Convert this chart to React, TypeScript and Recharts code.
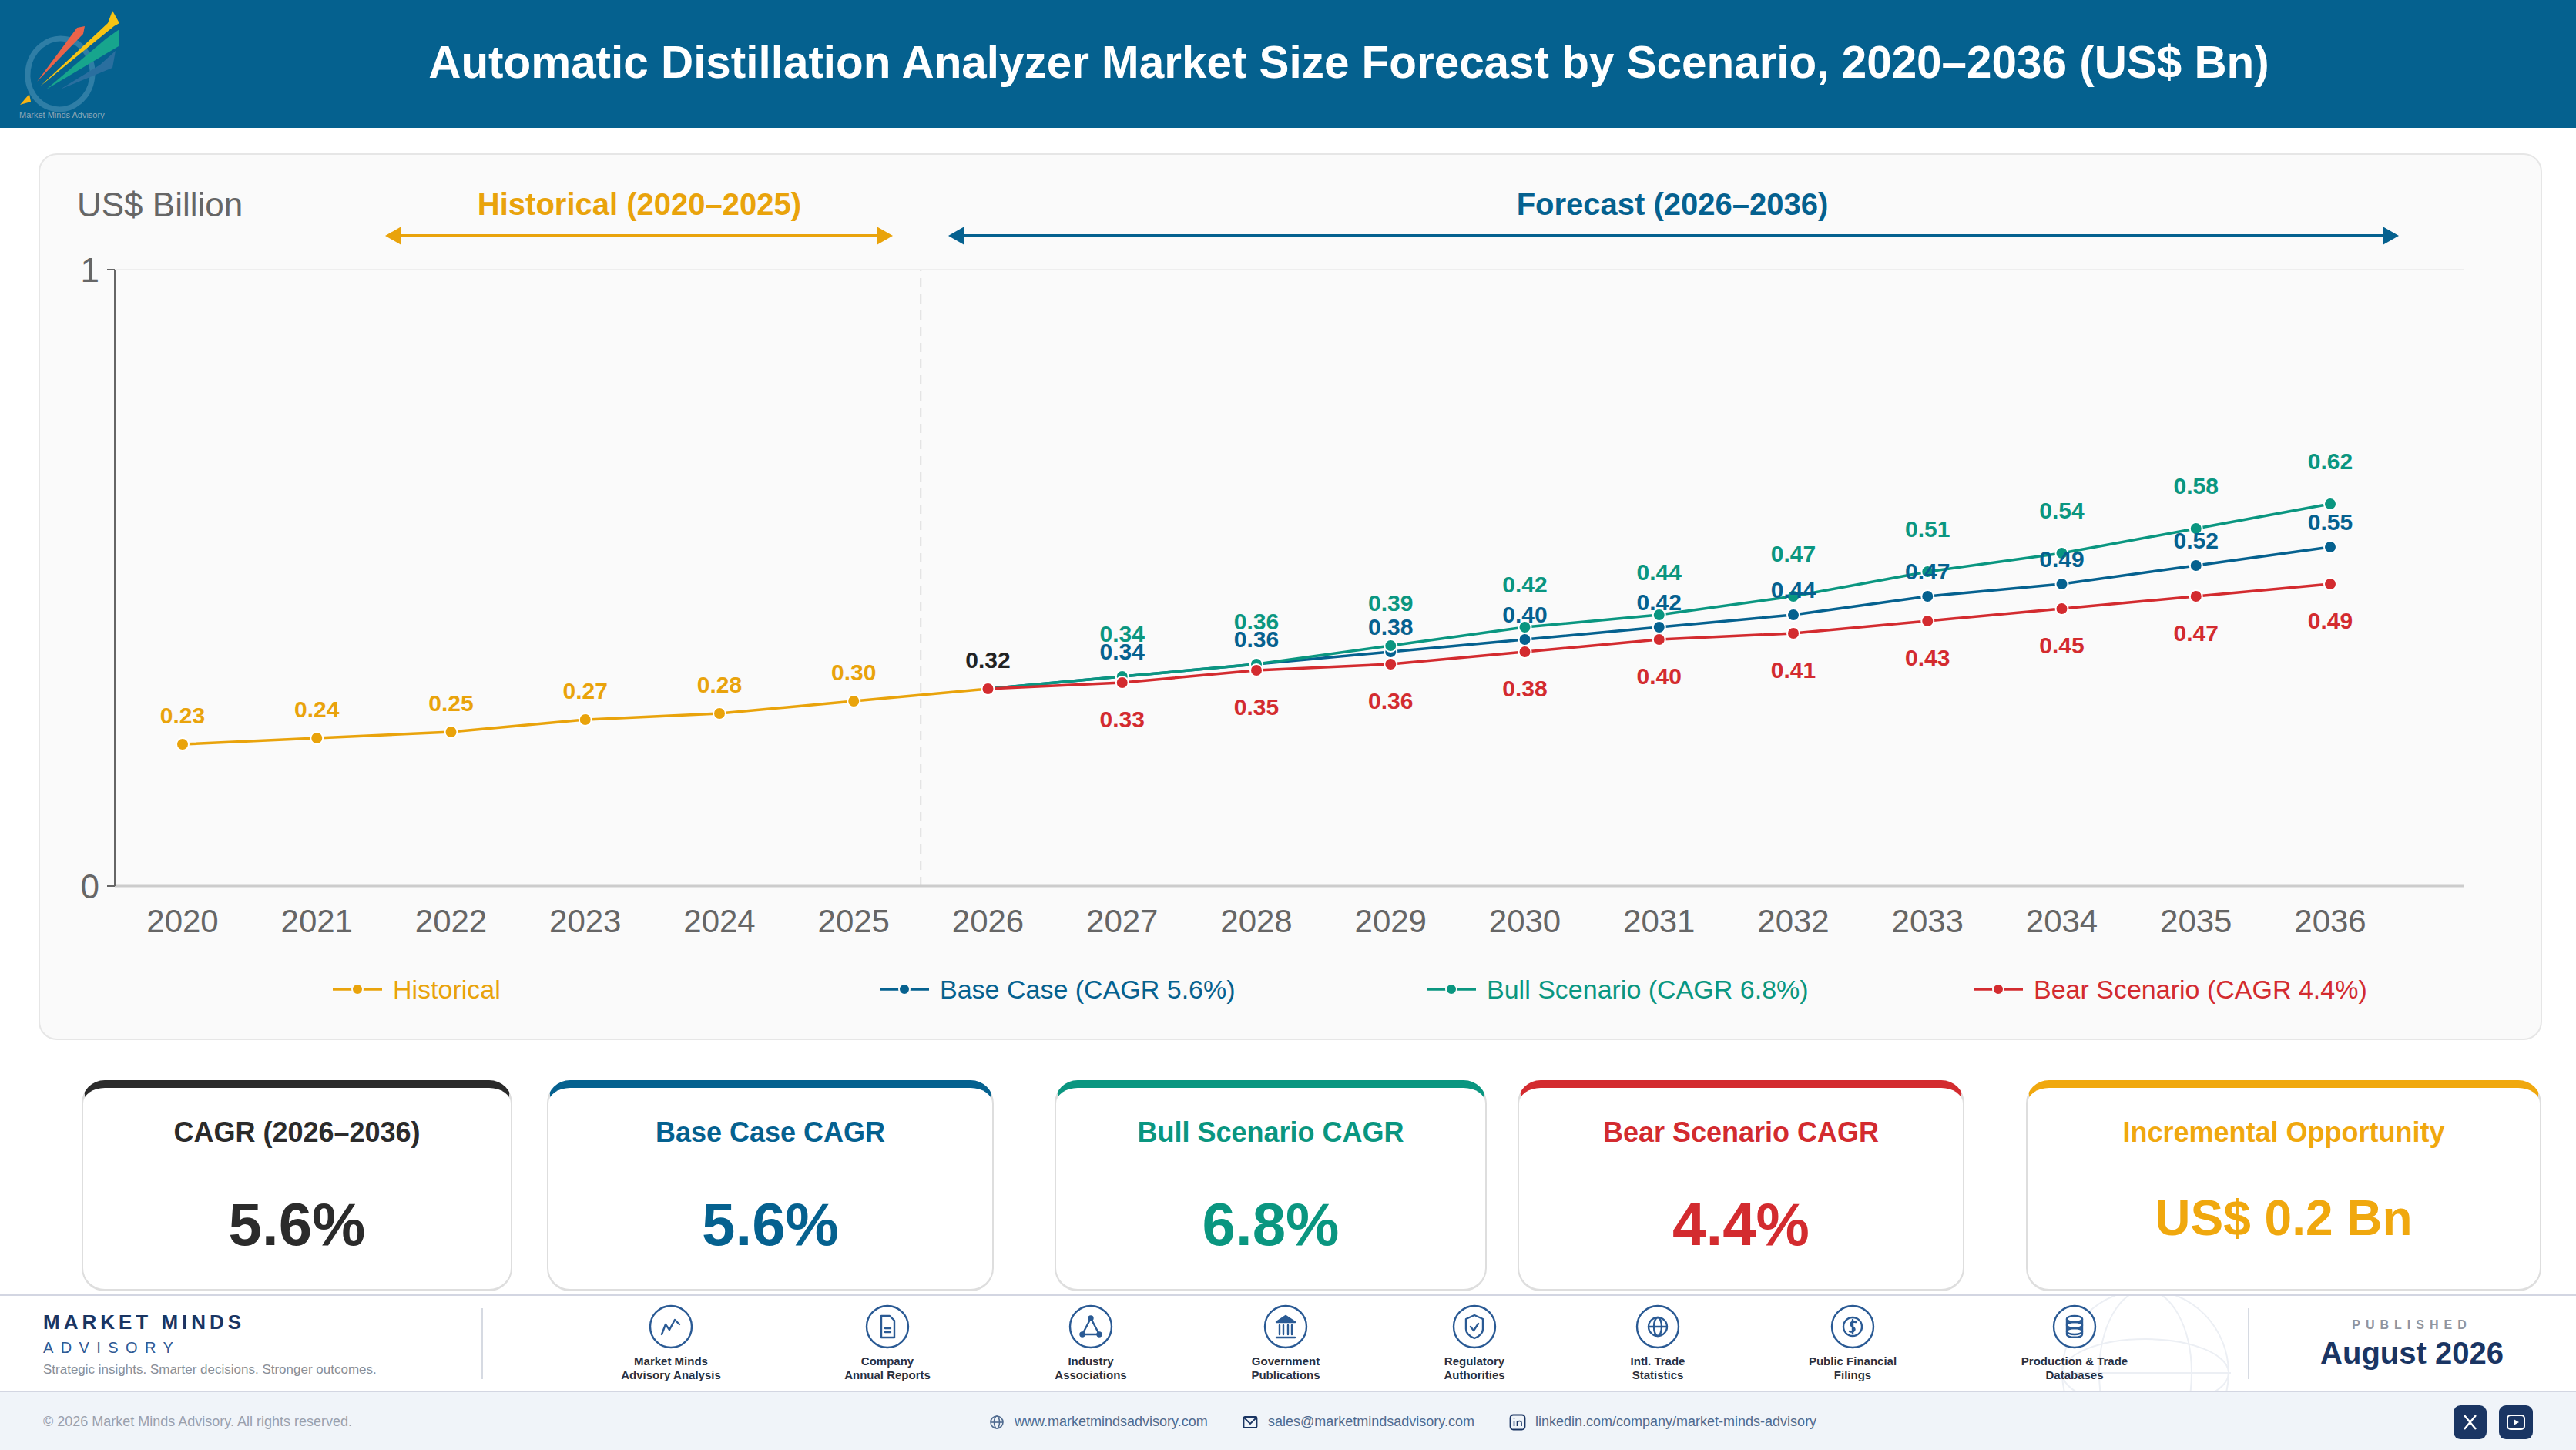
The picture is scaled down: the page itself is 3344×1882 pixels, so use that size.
import React from 'react';
import { LineChart, Line, XAxis, YAxis, CartesianGrid, Legend, ReferenceLine } from 'recharts';

const years = ['2020', '2021', '2022', '2023', '2024', '2025', '2026', '2027', '2028', '2029', '2030', '2031', '2032', '2033', '2034', '2035', '2036'];
const historical = [0.23, 0.24, 0.25, 0.27, 0.28, 0.30, 0.32, null, null, null, null, null, null, null, null, null, null];
const baseCase = [null, null, null, null, null, null, 0.32, 0.34, 0.36, 0.38, 0.40, 0.42, 0.44, 0.47, 0.49, 0.52, 0.55];
const bull = [null, null, null, null, null, null, 0.32, 0.34, 0.36, 0.39, 0.42, 0.44, 0.47, 0.51, 0.54, 0.58, 0.62];
const bear = [null, null, null, null, null, null, 0.32, 0.33, 0.35, 0.36, 0.38, 0.40, 0.41, 0.43, 0.45, 0.47, 0.49];
const yTicks = [0, 1];

const data = years.map((year, i) => ({ year, historical: historical[i], baseCase: baseCase[i], bull: bull[i], bear: bear[i] }));

const BLUE = '#05618f';
const TEAL = '#0a9680';
const RED = '#d32b2f';
const AMBER = '#e9a30b';
const INK = '#2b2b2b';
const NAVY = '#1a3563';
const ICON = '#2a5a94';
const FONT = '"Liberation Sans", Arial, sans-serif';

const cards = [
  { label: 'CAGR (2026–2036)', value: '5.6%', color: INK, left: 106, right: 665, size: 78, y: 1590 },
  { label: 'Base Case CAGR', value: '5.6%', color: BLUE, left: 710, right: 1290, size: 78, y: 1590 },
  { label: 'Bull Scenario CAGR', value: '6.8%', color: TEAL, left: 1369, right: 1930, size: 78, y: 1590 },
  { label: 'Bear Scenario CAGR', value: '4.4%', color: RED, left: 1970, right: 2550, size: 78, y: 1590 },
  { label: 'Incremental Opportunity', value: 'US$ 0.2 Bn', color: '#f0a80e', left: 2630, right: 3299, size: 64, y: 1581 },
];

const sources = [
  { x: 871, lines: ['Market Minds', 'Advisory Analysis'], icon: 'trend' },
  { x: 1152, lines: ['Company', 'Annual Reports'], icon: 'doc' },
  { x: 1416, lines: ['Industry', 'Associations'], icon: 'net' },
  { x: 1669, lines: ['Government', 'Publications'], icon: 'bank' },
  { x: 1914, lines: ['Regulatory', 'Authorities'], icon: 'shield' },
  { x: 2152, lines: ['Intl. Trade', 'Statistics'], icon: 'globe' },
  { x: 2405, lines: ['Public Financial', 'Filings'], icon: 'coin' },
  { x: 2693, lines: ['Production & Trade', 'Databases'], icon: 'db' },
];

function T({ x, y, size, color, bold, anchor = 'left', spacing, children }: any) {
  const shift = anchor === 'center' ? 'translate(-50%, -50%)' : 'translateY(-50%)';
  return (
    <div style={{ position: 'absolute', left: x, top: y, transform: shift, fontSize: size, color, fontWeight: bold ? 700 : 400, letterSpacing: spacing, whiteSpace: 'nowrap', lineHeight: 1.2 }}>
      {children}
    </div>
  );
}

function Glyph({ name }: { name: string }) {
  const s = { fill: 'none', stroke: ICON, strokeWidth: 2.4, strokeLinejoin: 'round' as const, strokeLinecap: 'round' as const };
  switch (name) {
    case 'trend':
      return <path d="M-12 10 L-7 -3 L-2 4 L5 -9 L11 -3" {...s} />;
    case 'doc':
      return <g {...s}><path d="M-8 -14 H3 L9 -8 V14 H-8 Z" /><path d="M-3 2 H4 M-3 7 H4" /></g>;
    case 'net':
      return <g {...s}><path d="M0 -11 L-11 10 H11 Z" /><circle cx="0" cy="-11" r="2.5" fill={ICON} /><circle cx="-11" cy="10" r="2.5" fill={ICON} /><circle cx="11" cy="10" r="2.5" fill={ICON} /></g>;
    case 'bank':
      return <g {...s}><path d="M-12 -6 L0 -14 L12 -6 Z" fill={ICON} /><path d="M-8 -2 V10 M-3 -2 V10 M3 -2 V10 M8 -2 V10 M-12 14 H12" /></g>;
    case 'shield':
      return <g {...s}><path d="M0 -15 L11 -10 V3 C11 9 5 13 0 15 C-5 13 -11 9 -11 3 V-10 Z" /><path d="M-5 0 L-1 5 L5 -4" /></g>;
    case 'globe':
      return <g {...s}><circle r="12" /><ellipse rx="5" ry="12" /><path d="M-12 0 H12" /></g>;
    case 'coin':
      return <g {...s}><circle r="12" /><path d="M4 -6 C-2 -8 -5 -3 0 0 C5 3 2 8 -4 6 M0 -9 V9" /></g>;
    default:
      return <g {...s}><ellipse cy="-10" rx="10" ry="4" /><ellipse cy="-2" rx="10" ry="4" /><ellipse cy="6" rx="10" ry="4" /><path d="M-10 -10 V10 C-10 15 10 15 10 10 V-10" /></g>;
  }
}

function labelFor(color: string, offset: number, skip: number[]) {
  return (props: any) => {
    const { x, y, value, index } = props;
    if (value == null || skip.includes(index)) return <g key={index} />;
    const fill = index === 6 ? '#222222' : color;
    return (
      <text key={index} x={x} y={y + offset} textAnchor="middle" dominantBaseline="central" fontSize={30} fontWeight={700} fill={fill} fontFamily={FONT}>
        {Number(value).toFixed(2)}
      </text>
    );
  };
}

function ChartLegend({ payload }: any) {
  const items = (payload || []).filter((item: any) => item.type !== 'none');
  return (
    <div style={{ display: 'flex', height: 40, paddingLeft: 432, alignItems: 'center', fontFamily: FONT }}>
      {items.map((item: any) => (
        <div key={item.value} style={{ width: 710, display: 'flex', alignItems: 'center', color: item.color, fontSize: 34 }}>
          <svg width={64} height={20} style={{ marginRight: 14 }}>
            <line x1={0} y1={10} x2={64} y2={10} stroke={item.color} strokeWidth={3.5} />
            <circle cx={32} cy={10} r={7} fill={item.color} stroke="#fafafa" strokeWidth={2} />
          </svg>
          {item.value}
        </div>
      ))}
    </div>
  );
}

function Arrow({ x1, x2, y, color }: { x1: number; x2: number; y: number; color: string }) {
  return (
    <svg style={{ position: 'absolute', left: 0, top: 0 }} width={3344} height={400}>
      <line x1={x1 + 10} y1={y} x2={x2 - 10} y2={y} stroke={color} strokeWidth={4} />
      <path d={`M${x1} ${y} L${x1 + 21} ${y - 12} V${y + 12} Z`} fill={color} />
      <path d={`M${x2} ${y} L${x2 - 21} ${y - 12} V${y + 12} Z`} fill={color} />
    </svg>
  );
}

export default function App() {
  return (
    <div style={{ position: 'absolute', left: 0, top: 0, width: 3344, height: 1882, background: '#fff', fontFamily: FONT, overflow: 'hidden' }}>
      {/* header */}
      <div style={{ position: 'absolute', left: 0, top: 0, width: 3344, height: 166, background: BLUE }} />
      <svg style={{ position: 'absolute', left: 0, top: 0 }} width={170} height={166}>
        <ellipse cx={78} cy={96} rx={42} ry={46} fill="none" stroke="#2f7ea6" strokeWidth={7} transform="rotate(8 78 96)" />
        <path d="M48 106 L100 36 L110 34 L108 44 Z" fill="#e9634a" />
        <path d="M52 112 L140 30 L146 14 L155 30 L148 34 Z" fill="#f6c414" />
        <path d="M60 116 L138 50 L155 38 L154 60 Z" fill="#17a58d" />
        <path d="M78 116 L130 84 L150 66 L146 88 Z" fill="#2a6f9f" />
        <path d="M26 136 L38 122 L40 132 Z" fill="#f6b414" />
      </svg>
      <T x={25} y={150} size={11} color="#8fa9b8">Market Minds Advisory</T>
      <T x={1751} y={81} size={58.4} color="#fff" bold anchor="center">Automatic Distillation Analyzer Market Size Forecast by Scenario, 2020–2036 (US$ Bn)</T>

      {/* chart panel */}
      <div style={{ position: 'absolute', left: 50, top: 199, width: 3250, height: 1151, boxSizing: 'border-box', background: '#fafafa', border: '2px solid #e6e6e6', borderRadius: 24 }} />
      <T x={100} y={266} size={44} color="#666666">US$ Billion</T>
      <T x={830} y={265} size={40} color={AMBER} bold anchor="center">Historical (2020–2025)</T>
      <T x={2171} y={265} size={40} color={BLUE} bold anchor="center">Forecast (2026–2036)</T>
      <Arrow x1={500} x2={1159} y={306} color={AMBER} />
      <Arrow x1={1231} x2={3114} y={306} color={BLUE} />

      <div style={{ position: 'absolute', left: 0, top: 0 }}>
        <LineChart width={3344} height={1350} data={data} margin={{ top: 350, left: 89, right: 145, bottom: 46 }}>
          <CartesianGrid vertical={false} stroke="#eeeeee" strokeWidth={2} />
          <XAxis dataKey="year" height={114} padding={{ left: 88, right: 174 }} tickLine={false} tickMargin={24} stroke="#cccccc" strokeWidth={3} tick={{ fontSize: 42, fill: '#666666', fontFamily: FONT }} interval={0} />
          <YAxis domain={[0, 1]} ticks={yTicks} width={60} tickSize={10} tickMargin={10} stroke="#666666" strokeWidth={2} tick={{ fontSize: 44, fill: '#666666', fontFamily: FONT }} />
          <ReferenceLine x="2025" shape={(p: any) => <line x1={p.x1 + 87} y1={p.y1} x2={p.x2 + 87} y2={p.y2} stroke="#dddddd" strokeWidth={2} strokeDasharray="12 9" />} />
          <Legend verticalAlign="bottom" align="left" itemSorter={null} wrapperStyle={{ left: 0, width: 3344 }} content={ChartLegend} />
          <Line dataKey="historical" name="Historical" stroke={AMBER} strokeWidth={3.5} dot={{ r: 8, fill: AMBER, stroke: '#fff', strokeWidth: 2 }} isAnimationActive={false} label={labelFor(AMBER, -38, [])} />
          <Line dataKey="baseCase" name="Base Case (CAGR 5.6%)" stroke={BLUE} strokeWidth={3.5} dot={{ r: 8, fill: BLUE, stroke: '#fff', strokeWidth: 2 }} isAnimationActive={false} />
          <Line dataKey="bull" name="Bull Scenario (CAGR 6.8%)" stroke={TEAL} strokeWidth={3.5} dot={{ r: 8, fill: TEAL, stroke: '#fff', strokeWidth: 2 }} isAnimationActive={false} label={labelFor(TEAL, -56, [6])} />
          {/* base labels sit above the bull ones where they collide */}
          <Line dataKey="baseCase" legendType="none" stroke="none" dot={false} isAnimationActive={false} label={labelFor(BLUE, -33, [6])} />
          <Line dataKey="bear" name="Bear Scenario (CAGR 4.4%)" stroke={RED} strokeWidth={3.5} dot={{ r: 8, fill: RED, stroke: '#fff', strokeWidth: 2 }} isAnimationActive={false} label={labelFor(RED, 47, [6])} />
        </LineChart>
      </div>

      {/* kpi cards */}
      {cards.map((c) => (
        <React.Fragment key={c.label}>
          <div style={{ position: 'absolute', left: c.left, top: 1402, width: c.right - c.left, height: 274, boxSizing: 'border-box', background: '#fff', borderLeft: '2px solid #dedede', borderRight: '2px solid #dedede', borderBottom: '3px solid #dedede', borderTop: `10px solid ${c.color}`, borderRadius: 30 }} />
          <T x={(c.left + c.right) / 2} y={1470} size={36} color={c.color} bold anchor="center">{c.label}</T>
          <T x={(c.left + c.right) / 2} y={c.y} size={c.size} color={c.color} bold anchor="center">{c.value}</T>
        </React.Fragment>
      ))}

      {/* footer */}
      <div style={{ position: 'absolute', left: 0, top: 1680, width: 3344, height: 2, background: '#d3d6e2' }} />
      <svg style={{ position: 'absolute', left: 2676, top: 1682 }} width={220} height={124}>
        <g fill="none" stroke="#eceff4" strokeWidth={2}>
          <circle cx={109} cy={100} r={108} />
          <ellipse cx={109} cy={100} rx={60} ry={108} />
          <ellipse cx={109} cy={100} rx={108} ry={44} />
          <line x1={0} y1={100} x2={220} y2={100} />
        </g>
      </svg>
      <div style={{ position: 'absolute', left: 0, top: 1805, width: 3344, height: 77, background: '#f0f4f9', borderTop: '2px solid #d3d6e2', boxSizing: 'border-box' }} />
      <T x={56} y={1717} size={26} color={NAVY} bold spacing={5}>MARKET MINDS</T>
      <T x={56} y={1749} size={20} color="#2f5a94" spacing={9.4}>ADVISORY</T>
      <T x={56} y={1778} size={17} color="#8a8f98">Strategic insights. Smarter decisions. Stronger outcomes.</T>
      <div style={{ position: 'absolute', left: 625, top: 1698, width: 2, height: 92, background: '#d6dae2' }} />
      <div style={{ position: 'absolute', left: 2918, top: 1698, width: 2, height: 92, background: '#d6dae2' }} />
      {sources.map((s) => (
        <React.Fragment key={s.x}>
          <svg style={{ position: 'absolute', left: s.x - 30, top: 1692 }} width={60} height={60} viewBox="-30 -30 60 60">
            <circle r={27} fill="#fff" stroke={ICON} strokeWidth={2.4} />
            <Glyph name={s.icon} />
          </svg>
          <T x={s.x} y={1767} size={15} color="#2a3040" bold anchor="center">{s.lines[0]}</T>
          <T x={s.x} y={1785} size={15} color="#2a3040" bold anchor="center">{s.lines[1]}</T>
        </React.Fragment>
      ))}
      <T x={3131} y={1720} size={16} color="#9095a0" bold anchor="center" spacing={7}>PUBLISHED</T>
      <T x={3131} y={1756} size={40} color={NAVY} bold anchor="center">August 2026</T>

      <T x={56} y={1846} size={18} color="#9aa0ad">© 2026 Market Minds Advisory. All rights reserved.</T>
      <svg style={{ position: 'absolute', left: 1284, top: 1836 }} width={20} height={20} viewBox="-10 -10 20 20">
        <g fill="none" stroke="#4f6a8f" strokeWidth={1.6}><circle r={8} /><ellipse rx={3.5} ry={8} /><path d="M-8 0 H8" /></g>
      </svg>
      <T x={1317} y={1846} size={18} color="#4f6a8f">www.marketmindsadvisory.com</T>
      <svg style={{ position: 'absolute', left: 1613, top: 1836 }} width={20} height={20}>
        <g fill="none" stroke={NAVY} strokeWidth={1.8}><rect x={1.5} y={3} width={17} height={14} rx={1.5} /><path d="M2 4 L10 12 L18 4" /></g>
      </svg>
      <T x={1646} y={1846} size={18} color="#4f6a8f">sales@marketmindsadvisory.com</T>
      <svg style={{ position: 'absolute', left: 1959, top: 1835 }} width={22} height={22}>
        <rect x={1.5} y={1.5} width={19} height={19} rx={4} fill="none" stroke={NAVY} strokeWidth={1.8} />
        <path d="M6.5 9 V16 M6.5 6 V6.6 M10.5 16 V9 M10.5 12 C11 9 16 8.5 16 12 V16" fill="none" stroke={NAVY} strokeWidth={1.6} />
      </svg>
      <T x={1993} y={1846} size={18} color="#4f6a8f">linkedin.com/company/market-minds-advisory</T>
      <svg style={{ position: 'absolute', left: 3185, top: 1824 }} width={104} height={44}>
        <rect x={0} y={0} width={43} height={44} rx={9} fill={NAVY} />
        <path d="M14 13 L29 31 M29 13 L14 31" stroke="#fff" strokeWidth={2.4} />
        <rect x={59} y={0} width={44} height={44} rx={9} fill={NAVY} />
        <rect x={70} y={13} width={22} height={18} rx={4} fill="none" stroke="#fff" strokeWidth={2} />
        <path d="M78 18 L85 22 L78 26 Z" fill="#fff" />
      </svg>
    </div>
  );
}
